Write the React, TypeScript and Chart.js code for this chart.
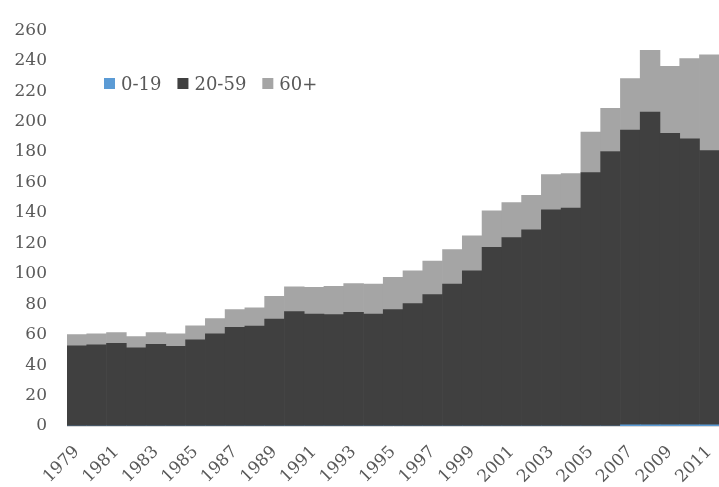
import React, { useEffect, useRef } from "react";
import { Chart, registerables } from "chart.js";

Chart.register(...registerables);

const years: string[] = [
  "1979", "1980", "1981", "1982", "1983", "1984", "1985", "1986", "1987", "1988", "1989",
  "1990", "1991", "1992", "1993", "1994", "1995", "1996", "1997", "1998", "1999", "2000",
  "2001", "2002", "2003", "2004", "2005", "2006", "2007", "2008", "2009", "2010", "2011",
];

const age0to19: number[] = [
  0, 0, 0, 0, 0, 0, 0, 0, 0, 0, 0,
  0, 0, 0, 0, 0, 0, 0, 0, 0, 0, 0,
  0, 0, 0, 0, 0, 0, 0.7, 0.7, 0.7, 0.7, 0.7,
];

const age20to59: number[] = [
  52.6, 53.4, 54.3, 51.3, 53.6, 52.4, 56.6, 60.6, 64.8, 65.6, 70.3,
  75.1, 73.6, 73.2, 74.7, 73.6, 76.4, 80.4, 86.3, 93.2, 102.0, 117.4,
  123.7, 128.9, 142.0, 143.1, 166.4, 180.3, 193.7, 205.5, 191.6, 188.0, 180.2,
];

const age60plus: number[] = [
  7.4, 7.2, 7.1, 7.4, 7.8, 8.2, 9.2, 9.9, 11.6, 12.0, 14.9,
  16.4, 17.5, 18.5, 18.9, 19.6, 21.2, 21.6, 22.0, 22.7, 23.0, 24.0,
  23.1, 22.6, 23.2, 22.7, 26.7, 28.4, 33.8, 40.5, 43.9, 52.6, 62.9,
];

const seriesNames: string[] = ["0-19", "20-59", "60+"];
const seriesColors: string[] = ["#5b9bd5", "#404040", "#a5a5a5"];

const FONT = "'DejaVu Serif', serif";
const TEXT = "#595959";

const insideLegend = {
  id: "insideLegend",
  afterDraw(chart: any) {
    const ctx = chart.ctx;
    ctx.save();
    ctx.font = `18px ${FONT}`;
    ctx.textBaseline = "alphabetic";
    ctx.textAlign = "left";
    let x = 104;
    const top = 78;
    const box = 11;
    chart.data.datasets.forEach((ds: any) => {
      ctx.fillStyle = ds.backgroundColor;
      ctx.fillRect(x, top, box, box);
      x += box + 6;
      ctx.fillStyle = TEXT;
      ctx.fillText(ds.label, x, 90);
      x += ctx.measureText(ds.label).width + 16;
    });
    ctx.restore();
  },
};

export default function App() {
  const ref = useRef<HTMLCanvasElement | null>(null);

  useEffect(() => {
    if (!ref.current) return;
    const values = [age0to19, age20to59, age60plus];
    const chart = new Chart(ref.current, {
      type: "bar",
      data: {
        labels: years,
        datasets: seriesNames.map((name, i) => ({
          label: name,
          data: values[i],
          backgroundColor: seriesColors[i],
          borderWidth: 0,
          barPercentage: 1,
          categoryPercentage: 1,
        })),
      },
      options: {
        responsive: false,
        animation: false,
        devicePixelRatio: 1,
        layout: { padding: { top: 14, right: 13, left: 0, bottom: 0 } },
        plugins: {
          legend: { display: false },
          tooltip: { enabled: false },
        },
        scales: {
          x: {
            stacked: true,
            grid: { display: false, drawTicks: false },
            border: { display: true, color: "#d9d9d9", width: 1 },
            ticks: {
              autoSkip: false,
              minRotation: 45,
              maxRotation: 45,
              padding: 16,
              color: TEXT,
              font: { family: FONT, size: 17 },
              callback: (_v: any, i: number) => (i % 2 === 0 ? years[i] : ""),
            },
            afterFit: (s: any) => {
              s.height = 61;
            },
          },
          y: {
            stacked: true,
            min: 0,
            max: 260,
            grid: { display: false, drawTicks: false },
            border: { display: false },
            ticks: {
              stepSize: 20,
              padding: 20,
              color: TEXT,
              font: { family: FONT, size: 17 },
            },
            afterFit: (s: any) => {
              s.width = 67;
            },
          },
        },
      },
      plugins: [insideLegend],
    });
    return () => chart.destroy();
  }, []);

  return (
    <div style={{ position: "absolute", left: 0, top: 0, width: 719, height: 487, overflow: "hidden", background: "#fff" }}>
      <canvas ref={ref} width={740} height={487} style={{ display: "block" }} />
    </div>
  );
}
